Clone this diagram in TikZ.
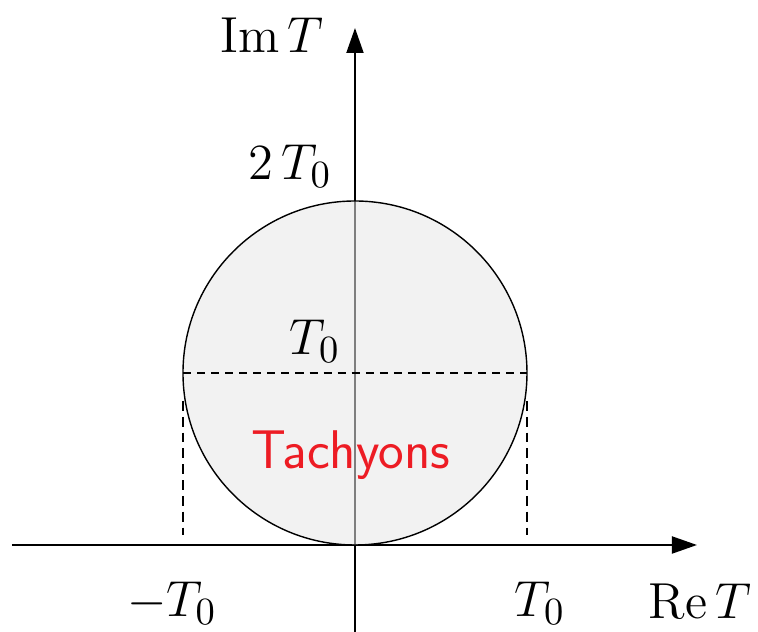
\documentclass[tikz,border=0pt]{standalone}
\usepackage{amsmath}
\usepackage{xcolor}
\usepackage{tikz}
\usetikzlibrary{arrows.meta, positioning, calc}
\definecolor{tachred}{RGB}{237, 28, 36}
\definecolor{discgray}{RGB}{232, 232, 232}

\begin{document}
\begin{tikzpicture}[
    axis/.style={line width=0.55pt, -{Triangle[length=0.25cm, width=0.17cm]}},
    disc/.style={draw, line width=0.4pt, fill=discgray, fill opacity=0.55},
    guide/.style={line width=0.3pt, dash pattern=on 2.3pt off 1.7pt},
    drop/.style={line width=0.65pt, dash pattern=on 2.8pt off 1.7pt},
    lab/.style={font=\fontsize{15}{18}\selectfont, inner sep=1pt},
    tach/.style={font=\fontsize{15.5}{18}\selectfont\sffamily, text=tachred},
]

% Frame
\useasboundingbox (-3.55,-0.87) rectangle (4.03,5.45);

% Axes
\coordinate (xl) at (-3.43,0);
\coordinate (xr) at (3.42,0);
\coordinate (yb) at (0,-0.87);
\coordinate (yt) at (0,5.17);
\draw[axis] (xl) -- (xr);
\draw[axis] (yb) -- (yt);

% Disc
\coordinate (c) at (0,1.72);
\coordinate (w) at (-1.72,1.72);
\coordinate (e) at (1.72,1.72);
\draw[disc] (c) circle (1.72);
\draw[guide] (w) -- (e);

% Drop lines
\coordinate (wt) at (-1.72,1.44);
\coordinate (wb) at (-1.72,0.10);
\coordinate (et) at (1.72,1.44);
\coordinate (eb) at (1.72,0.10);
\draw[drop] (wt) -- (wb);
\draw[drop] (et) -- (eb);

% Labels
\node[lab] (imT) at (-0.83,5.10) {$\operatorname{Im}T$};
\node[lab] (twoT) at (-0.65,3.79) {$2\,T_0$};
\node[lab] (T0up) at (-0.40,2.04) {$T_0$};
\node[tach] (tachyons) at (-0.04,0.90) {Tachyons};
\node[lab] (mT0) at (-1.83,-0.58) {$-T_0$};
\node[lab] (T0) at (1.85,-0.58) {$T_0$};
\node[lab] (reT) at (3.45,-0.56) {$\operatorname{Re}T$};

\end{tikzpicture}
\end{document}
